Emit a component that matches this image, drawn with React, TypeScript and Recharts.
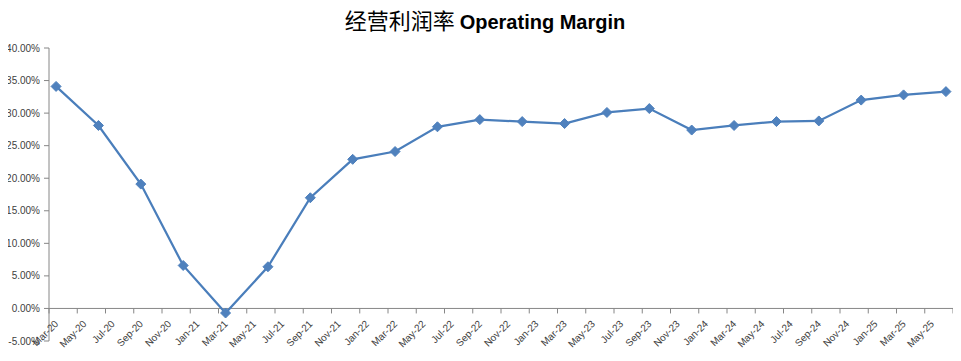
import React from "react";
import { LineChart, Line, XAxis, YAxis, ReferenceLine } from "recharts";

// quarter-end periods and operating margin (%)
const periods = [
  "2020-03", "2020-06", "2020-09", "2020-12",
  "2021-03", "2021-06", "2021-09", "2021-12",
  "2022-03", "2022-06", "2022-09", "2022-12",
  "2023-03", "2023-06", "2023-09", "2023-12",
  "2024-03", "2024-06", "2024-09", "2024-12",
  "2025-03", "2025-06",
];
const margin = [
  34.1, 28.1, 19.1, 6.6,
  -0.7, 6.4, 17.0, 22.9,
  24.1, 27.9, 29.0, 28.7,
  28.4, 30.1, 30.7, 27.4,
  28.1, 28.7, 28.8, 32.0,
  32.8, 33.3,
];

// axis labels, one every two months starting Mar-20
const xLabels = [
  "Mar-20", "May-20", "Jul-20", "Sep-20", "Nov-20",
  "Jan-21", "Mar-21", "May-21", "Jul-21", "Sep-21", "Nov-21",
  "Jan-22", "Mar-22", "May-22", "Jul-22", "Sep-22", "Nov-22",
  "Jan-23", "Mar-23", "May-23", "Jul-23", "Sep-23", "Nov-23",
  "Jan-24", "Mar-24", "May-24", "Jul-24", "Sep-24", "Nov-24",
  "Jan-25", "Mar-25", "May-25",
];
const yTicks = [-5, 0, 5, 10, 15, 20, 25, 30, 35, 40];

const Y_MIN = -5;
const Y_MAX = 40;
const MONTHS = xLabels.length * 2;

// month index from Mar-20, centred in the month slot
const monthIndex = (p: string) => {
  const [y, m] = p.split("-").map(Number);
  return (y - 2020) * 12 + (m - 3) + 0.5;
};

const data = periods.map((p, i) => ({ m: monthIndex(p), v: margin[i] }));
const xTicks = Array.from({ length: xLabels.length + 1 }, (_, i) => i * 2);

const W = 954;
const H = 353;
const M = { top: 48, right: 1, bottom: 11, left: 0 };
const X_H = 1;
const PLOT_H = H - M.top - M.bottom - X_H;
const ZERO_OFF = (PLOT_H * (0 - Y_MIN)) / (Y_MAX - Y_MIN);

const AXIS = "#868686";
const TEXT = "#404040";
const BLUE = "#4A7EBB";
const FILL = "#4F81BD";
const FONT = "Liberation Sans, Arial, sans-serif";

const XTick = (props: any) => {
  const { x, y, payload } = props;
  const y0 = y - ZERO_OFF;
  const label = xLabels[payload.value / 2];
  return (
    <g>
      <line x1={x} x2={x} y1={y0} y2={y0 + 5} stroke={AXIS} />
      {label && (
        <text
          transform={`translate(${x + 10},${y0 + 16}) rotate(-45)`}
          textAnchor="end"
          fontSize={10}
          fontFamily={FONT}
          fill={TEXT}
        >
          {label}
        </text>
      )}
    </g>
  );
};

const Diamond = (props: any) => {
  const { cx, cy, index } = props;
  const r = 5;
  return (
    <path
      key={index}
      d={`M${cx},${cy - r}L${cx + r},${cy}L${cx},${cy + r}L${cx - r},${cy}Z`}
      fill={FILL}
      stroke={FILL}
    />
  );
};

export default function App() {
  return (
    <div style={{ position: "relative", width: W, height: H, margin: "-8px 0 0 -8px" }}>
      <div
        style={{
          position: "absolute",
          top: 4,
          left: 0,
          width: 970,
          textAlign: "center",
          lineHeight: "30px",
          color: "#000",
          whiteSpace: "nowrap",
        }}
      >
        <span style={{ fontFamily: "Noto Sans CJK SC", fontSize: 22 }}>经营利润率 </span>
        <span style={{ fontFamily: FONT, fontWeight: "bold", fontSize: 20 }}>
          Operating Margin
        </span>
      </div>
      <LineChart width={W} height={H} data={data} margin={M}>
        <XAxis
          dataKey="m"
          type="number"
          domain={[0, MONTHS]}
          ticks={xTicks}
          interval={0}
          height={X_H}
          axisLine={false}
          tickLine={false}
          tickSize={0}
          tickMargin={0}
          tick={<XTick />}
        />
        <YAxis
          type="number"
          domain={[Y_MIN, Y_MAX]}
          ticks={yTicks}
          width={49}
          interval={0}
          stroke={AXIS}
          tickSize={5}
          tickMargin={4}
          tickFormatter={(v: number) => v.toFixed(2) + "%"}
          tick={{ fontSize: 10, fill: TEXT, fontFamily: FONT }}
        />
        <ReferenceLine y={0} stroke={AXIS} />
        <Line
          dataKey="v"
          stroke={BLUE}
          strokeWidth={2.25}
          dot={<Diamond />}
          activeDot={false}
          isAnimationActive={false}
        />
      </LineChart>
    </div>
  );
}
